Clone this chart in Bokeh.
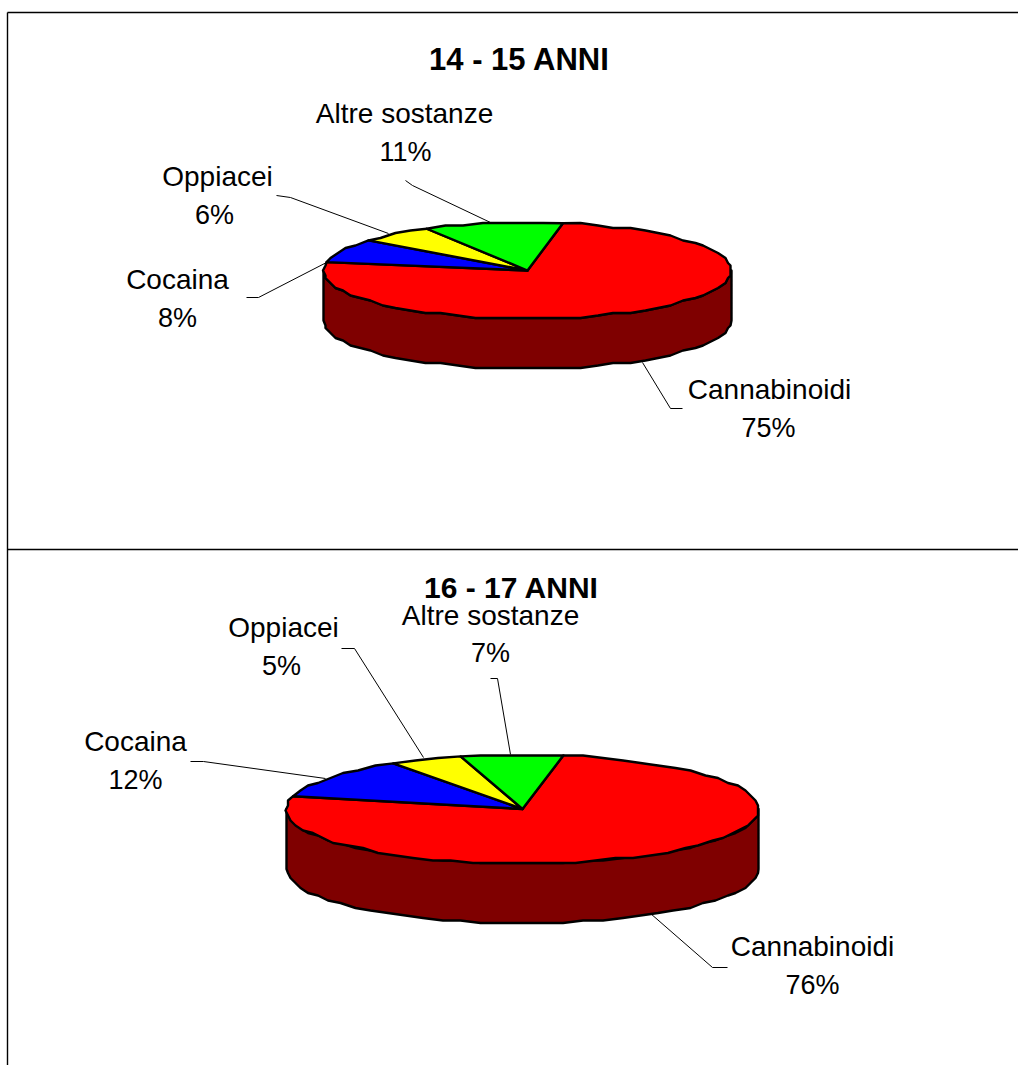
import numpy as np
from bokeh.plotting import figure
from bokeh.models import Range1d
from bokeh.core.properties import value
from bokeh.embed import file_html
from bokeh.resources import INLINE

categories = ["Cannabinoidi", "Cocaina", "Oppiacei", "Altre sostanze"]
colors = ["#ff0000", "#0000ff", "#ffff00", "#00ff00"]
wall_color = "#7f0000"
titles = ["14 - 15 ANNI", "16 - 17 ANNI"]
values_1415 = [75, 8, 6, 11]
values_1617 = [76, 12, 5, 7]

START = 80.0
FONT = value("Liberation Sans")


def rim(cx, cy, rx, ry, a0, a1, dy=0):
    n = max(2, int(abs(a1 - a0) / 5) + 1)
    t = np.radians(np.linspace(a0, a1, n))
    x = cx + rx * np.cos(t)
    y = cy - ry * np.sin(t) + dy
    x = np.round(x / 2.5) * 2.5
    y = np.round(y / 2.5) * 2.5
    x[0], y[0] = cx + rx * np.cos(t[0]), cy - ry * np.sin(t[0]) + dy
    x[-1], y[-1] = cx + rx * np.cos(t[-1]), cy - ry * np.sin(t[-1]) + dy
    return list(x), list(y)


def draw_pie(p, vals, cx, cy, rx, ry, depth):
    x1, y1 = rim(cx, cy, rx, ry, 180, 360)
    x2, y2 = rim(cx, cy, rx, ry, 360, 180, dy=depth)
    p.patch(x1 + x2, y1 + y2, fill_color=wall_color, line_color="black",
            line_width=2.4, line_join="round")
    a = START
    xs, ys = [], []
    for v in vals:
        b = a - v * 3.6
        x, y = rim(cx, cy, rx, ry, a, b)
        xs.append([cx] + x)
        ys.append([cy] + y)
        a = b
    p.patches(xs, ys, fill_color=colors, line_color="black", line_width=2.4,
              line_join="round")


def label(p, x, y, txt, size="28px", style="normal"):
    p.text([x], [y], text=[txt], text_align="center", text_baseline="middle",
           text_font=FONT, text_font_size=size, text_font_style=style, text_color="black")


p = figure(width=1018, height=1065, x_range=Range1d(0, 1018), y_range=Range1d(1065, 0),
           output_backend="svg", toolbar_location=None, min_border=0,
           outline_line_color=None)
p.xaxis.visible = False
p.yaxis.visible = False
p.grid.visible = False

for xx, yy in [([7, 1018], [12, 12]), ([7, 1018], [549, 549]), ([7, 7], [12, 1065])]:
    p.line(xx, yy, line_color="black", line_width=1.4)

leaders = [
    ([405, 412, 490], [180, 185, 222]),
    ([276, 290, 388], [195, 197, 233]),
    ([246, 258, 326], [297, 297, 262]),
    ([642, 670, 682], [362, 408, 408]),
    ([490, 497, 510], [678, 678, 754]),
    ([341, 354, 423], [648, 648, 757]),
    ([190, 203, 325], [761, 761, 778]),
    ([650, 712, 727], [913, 967, 967]),
]
for xx, yy in leaders:
    p.line(xx, yy, line_color="black", line_width=1)

draw_pie(p, values_1415, 527, 270, 204, 48, 50)
draw_pie(p, values_1617, 522, 808.5, 236, 54.5, 60)

label(p, 519, 59, titles[0], "31px", "bold")
label(p, 511, 587, titles[1], "30px", "bold")

pos_1415 = [(769, 389, 768, 427), (177, 279, 177, 317), (217, 176, 214, 214), (404, 113, 405, 151)]
pos_1617 = [(812, 946, 812, 984), (135, 741, 135, 779), (283, 627, 281, 665), (490, 615, 490, 652)]
for vals, pos in [(values_1415, pos_1415), (values_1617, pos_1617)]:
    for c, v, (a, b, d, e) in zip(categories, vals, pos):
        label(p, a, b, c)
        label(p, d, e, f"{v}%", "27px")

open("out.html", "w").write(file_html(p, INLINE))
